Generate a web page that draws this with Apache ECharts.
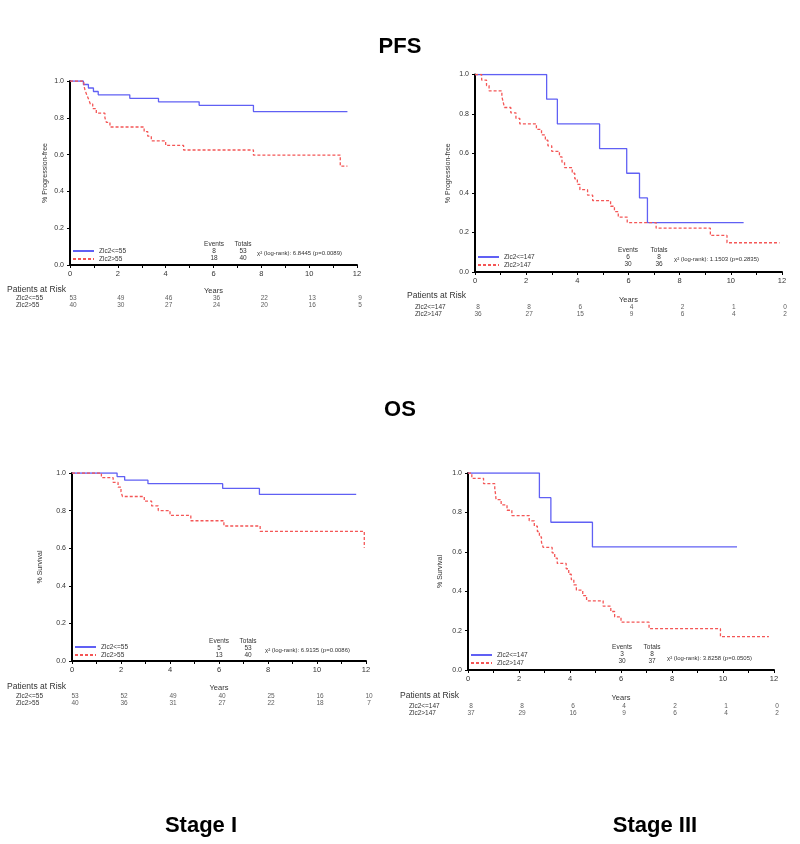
<!DOCTYPE html>
<html>
<head>
<meta charset="utf-8">
<script src="https://cdn.jsdelivr.net/npm/echarts@6/dist/echarts.min.js"></script>
<style>
  html, body { margin: 0; background: #fff; }
  #chart { width: 800px; height: 844px; }
</style>
</head>
<body>
<div id="chart"></div>
<script>
const riskYears = [0, 2, 4, 6, 8, 10, 12];

// Kaplan-Meier curves, [years, survival]
const pfsStage1Low = [[0, 1], [0.56, 0.981], [0.77, 0.962], [0.98, 0.943], [1.18, 0.925], [2.5, 0.906], [3.7, 0.887], [5.4, 0.868], [7.67, 0.834], [11.6, 0.834]];
const pfsStage1High = [[0, 1], [0.58, 0.975], [0.63, 0.95], [0.7, 0.925], [0.78, 0.9], [0.85, 0.875], [0.95, 0.85], [1.1, 0.825], [1.46, 0.8], [1.52, 0.775], [1.67, 0.75], [3.1, 0.725], [3.25, 0.7], [3.4, 0.675], [4.0, 0.65], [4.75, 0.625], [7.67, 0.597], [11.3, 0.537], [11.6, 0.537]];
const pfsStage3Low = [[0, 1], [2.8, 0.875], [3.22, 0.75], [4.87, 0.625], [5.93, 0.5], [6.43, 0.375], [6.74, 0.25], [10.5, 0.25]];
const pfsStage3High = [[0, 1], [0.26, 0.972], [0.45, 0.944], [0.55, 0.917], [1.05, 0.889], [1.1, 0.861], [1.15, 0.833], [1.4, 0.806], [1.6, 0.778], [1.75, 0.75], [2.4, 0.722], [2.6, 0.694], [2.75, 0.667], [2.85, 0.639], [3.0, 0.611], [3.3, 0.583], [3.4, 0.556], [3.5, 0.528], [3.8, 0.5], [3.9, 0.472], [4.0, 0.444], [4.1, 0.417], [4.4, 0.389], [4.6, 0.361], [5.3, 0.333], [5.45, 0.306], [5.6, 0.278], [5.95, 0.25], [7.08, 0.222], [9.2, 0.185], [9.85, 0.148], [11.9, 0.148]];
const osStage1Low = [[0, 1], [1.84, 0.981], [2.15, 0.962], [3.1, 0.943], [6.15, 0.918], [7.65, 0.886], [11.6, 0.886]];
const osStage1High = [[0, 1], [1.2, 0.975], [1.68, 0.95], [1.88, 0.925], [2.0, 0.9], [2.06, 0.875], [2.95, 0.85], [3.25, 0.825], [3.52, 0.8], [4.0, 0.775], [4.85, 0.746], [6.2, 0.718], [7.68, 0.69], [11.93, 0.603]];
const osStage3Low = [[0, 1], [2.8, 0.875], [3.25, 0.75], [4.88, 0.625], [10.55, 0.625]];
const osStage3High = [[0, 1], [0.15, 0.973], [0.61, 0.946], [1.05, 0.919], [1.08, 0.892], [1.1, 0.865], [1.3, 0.838], [1.53, 0.811], [1.72, 0.784], [2.4, 0.757], [2.6, 0.73], [2.72, 0.703], [2.8, 0.676], [2.88, 0.649], [2.95, 0.622], [3.3, 0.595], [3.4, 0.568], [3.5, 0.541], [3.85, 0.514], [3.95, 0.486], [4.05, 0.459], [4.15, 0.432], [4.25, 0.405], [4.5, 0.378], [4.65, 0.351], [5.3, 0.324], [5.6, 0.297], [5.75, 0.27], [6.0, 0.243], [7.1, 0.21], [9.9, 0.169], [11.8, 0.169]];

// patients at risk at riskYears
const pfsStage1RiskLow = [53, 49, 46, 36, 22, 13, 9];
const pfsStage1RiskHigh = [40, 30, 27, 24, 20, 16, 5];
const pfsStage3RiskLow = [8, 8, 6, 4, 2, 1, 0];
const pfsStage3RiskHigh = [36, 27, 15, 9, 6, 4, 2];
const osStage1RiskLow = [53, 52, 49, 40, 25, 16, 10];
const osStage1RiskHigh = [40, 36, 31, 27, 22, 18, 7];
const osStage3RiskLow = [8, 8, 6, 4, 2, 1, 0];
const osStage3RiskHigh = [37, 29, 16, 9, 6, 4, 2];

const stage1Groups = ["Zlc2<=55", "Zlc2>55"];
const stage1RiskLabels = ["Zlc2<=55", "Zlc2>55"];
const stage3Groups = ["Zlc2<=147", "Zlc2>147"];
const stage3RiskLabels = ["Zlc2<=147", "Zlc2>147"];

const pfsStage1Events = [8, 18];
const pfsStage1Totals = [53, 40];
const pfsStage3Events = [6, 30];
const pfsStage3Totals = [8, 36];
const osStage1Events = [5, 13];
const osStage1Totals = [53, 40];
const osStage3Events = [3, 30];
const osStage3Totals = [8, 37];

const pfsStage1Stat = "χ² (log-rank): 6.8445 (p=0.0089)";
const pfsStage3Stat = "χ² (log-rank): 1.1503 (p=0.2835)";
const osStage1Stat = "χ² (log-rank): 6.9135 (p=0.0086)";
const osStage3Stat = "χ² (log-rank): 3.8258 (p=0.0505)";

const panels = [
  {
    curves: [pfsStage1Low, pfsStage1High], names: stage1Groups, riskLabels: stage1RiskLabels,
    risk: [pfsStage1RiskLow, pfsStage1RiskHigh], events: pfsStage1Events, totals: pfsStage1Totals,
    stat: pfsStage1Stat, yName: "% Progression-free",
    box: { left: 70, top: 81, width: 287, height: 184, riskTop: 294.5, labelMargin: 54, yNameGap: 21, xNameGap: 22,
      legendLeft: 72, legendTop: 247.5, evX: 214, totX: 243, evY: 244, chiX: 257, chiY: 253, parX: 7, parY: 290 },
  },
  {
    curves: [pfsStage3Low, pfsStage3High], names: stage3Groups, riskLabels: stage3RiskLabels,
    risk: [pfsStage3RiskLow, pfsStage3RiskHigh], events: pfsStage3Events, totals: pfsStage3Totals,
    stat: pfsStage3Stat, yName: "% Progression-free",
    box: { left: 475, top: 74.5, width: 307, height: 197.5, riskTop: 303.5, labelMargin: 60, yNameGap: 23, xNameGap: 24,
      legendLeft: 477, legendTop: 253.5, evX: 628, totX: 659, evY: 250, chiX: 674, chiY: 259, parX: 407, parY: 296 },
  },
  {
    curves: [osStage1Low, osStage1High], names: stage1Groups, riskLabels: stage1RiskLabels,
    risk: [osStage1RiskLow, osStage1RiskHigh], events: osStage1Events, totals: osStage1Totals,
    stat: osStage1Stat, yName: "% Survival",
    box: { left: 72, top: 473, width: 294, height: 188, riskTop: 692.5, labelMargin: 56, yNameGap: 28, xNameGap: 23,
      legendLeft: 74, legendTop: 643.5, evX: 219, totX: 248, evY: 641, chiX: 265, chiY: 650, parX: 7, parY: 687 },
  },
  {
    curves: [osStage3Low, osStage3High], names: stage3Groups, riskLabels: stage3RiskLabels,
    risk: [osStage3RiskLow, osStage3RiskHigh], events: osStage3Events, totals: osStage3Totals,
    stat: osStage3Stat, yName: "% Survival",
    box: { left: 468, top: 473, width: 306, height: 197, riskTop: 702.5, labelMargin: 59, yNameGap: 24, xNameGap: 24,
      legendLeft: 470, legendTop: 651.5, evX: 622, totX: 652, evY: 647, chiX: 667, chiY: 658, parX: 400, parY: 696 },
  },
];

const FONT = "Liberation Sans, Arial, sans-serif";
const TXT = "#333";
const lineColors = ["#6060f4", "#f45656"];

const grid = [];
const xAxis = [];
const yAxis = [];
const series = [];
const legend = [];
const elements = [];

function text(x, y, str, size, opts = {}) {
  elements.push({
    type: "text",
    x,
    y,
    silent: true,
    style: {
      text: str,
      fontSize: size,
      fontFamily: FONT,
      fontWeight: opts.weight || "normal",
      fill: opts.color || TXT,
      align: opts.align || "left",
      verticalAlign: "middle",
    },
  });
}

panels.forEach((p, i) => {
  const b = p.box;
  const g = i * 2;
  grid.push({ left: b.left, top: b.top, width: b.width, height: b.height, outerBoundsMode: "none" });
  grid.push({ left: b.left, top: b.riskTop, width: b.width, height: 14, outerBoundsMode: "none" });

  xAxis.push({
    type: "value", gridIndex: g, min: 0, max: 12, interval: 2,
    name: "Years", nameLocation: "middle", nameGap: b.xNameGap,
    nameTextStyle: { fontSize: 7.5, color: TXT, fontFamily: FONT },
    axisLine: { lineStyle: { color: "#000", width: 2 } },
    axisTick: { length: 3, lineStyle: { color: "#000" } },
    minorTick: { show: true, splitNumber: 2, length: 3, lineStyle: { color: "#000" } },
    axisLabel: { fontSize: 7.5, color: TXT, fontFamily: FONT, margin: 5 },
    splitLine: { show: false },
  });
  xAxis.push({ type: "value", gridIndex: g + 1, min: 0, max: 12, show: false });

  yAxis.push({
    type: "value", gridIndex: g, min: 0, max: 1, interval: 0.2,
    name: p.yName, nameLocation: "middle", nameGap: b.yNameGap,
    nameTextStyle: { fontSize: 7, color: TXT, fontFamily: FONT },
    axisLine: { show: true, lineStyle: { color: "#000", width: 2 } },
    axisTick: { show: true, length: 3, lineStyle: { color: "#000" } },
    axisLabel: { fontSize: 7, color: TXT, fontFamily: FONT, margin: 6, formatter: (v) => v.toFixed(1) },
    splitLine: { show: false },
  });
  yAxis.push({
    type: "category", gridIndex: g + 1, inverse: true, data: p.riskLabels,
    axisLine: { show: false }, axisTick: { show: false }, splitLine: { show: false },
    axisLabel: { interval: 0, align: "left", fontSize: 6.5, color: TXT, fontFamily: FONT, margin: b.labelMargin },
  });

  p.curves.forEach((curve, k) => {
    series.push({
      type: "line", name: p.names[k], xAxisIndex: g, yAxisIndex: g,
      step: "end", symbol: "none", showSymbol: false, data: curve, silent: true,
      lineStyle: { color: lineColors[k], width: 1.3, type: k === 0 ? "solid" : [3, 2] },
      itemStyle: { color: lineColors[k] },
    });
  });

  const riskData = [];
  p.risk.forEach((row, r) => {
    row.forEach((n, c) => riskData.push([riskYears[c], r, n]));
  });
  series.push({
    type: "scatter", name: "risk" + i, xAxisIndex: g + 1, yAxisIndex: g + 1,
    symbolSize: 1, itemStyle: { color: "rgba(0,0,0,0)" }, silent: true,
    data: riskData,
    label: {
      show: true, position: "inside", offset: [3, 0],
      fontSize: 6.5, color: TXT, fontFamily: FONT,
      formatter: (d) => String(d.value[2]),
    },
  });

  legend.push({
    left: b.legendLeft, top: b.legendTop, orient: "vertical", padding: 0, itemGap: 1,
    itemWidth: 21, itemHeight: 6, selectedMode: false, data: p.names,
    itemStyle: { opacity: 0 },
    textStyle: { fontSize: 6.5, color: TXT, fontFamily: FONT, lineHeight: 7 },
  });

  text(b.evX, b.evY, "Events", 6.5, { align: "center" });
  text(b.totX, b.evY, "Totals", 6.5, { align: "center" });
  p.events.forEach((v, r) => text(b.evX, b.evY + 7 + r * 7, String(v), 6.5, { align: "center" }));
  p.totals.forEach((v, r) => text(b.totX, b.evY + 7 + r * 7, String(v), 6.5, { align: "center" }));
  text(b.chiX, b.chiY, p.stat, 6);
  text(b.parX, b.parY, "Patients at Risk", 8.5);
});

text(400, 47, "PFS", 22, { align: "center", weight: "bold", color: "#000" });
text(400, 410, "OS", 22, { align: "center", weight: "bold", color: "#000" });
text(201, 826, "Stage I", 22, { align: "center", weight: "bold", color: "#000" });
text(655, 826, "Stage III", 22, { align: "center", weight: "bold", color: "#000" });

const chart = echarts.init(document.getElementById("chart"));
chart.setOption({
  backgroundColor: "#fff",
  animation: false,
  grid,
  xAxis,
  yAxis,
  legend,
  series,
  graphic: { elements },
});
</script>
</body>
</html>
